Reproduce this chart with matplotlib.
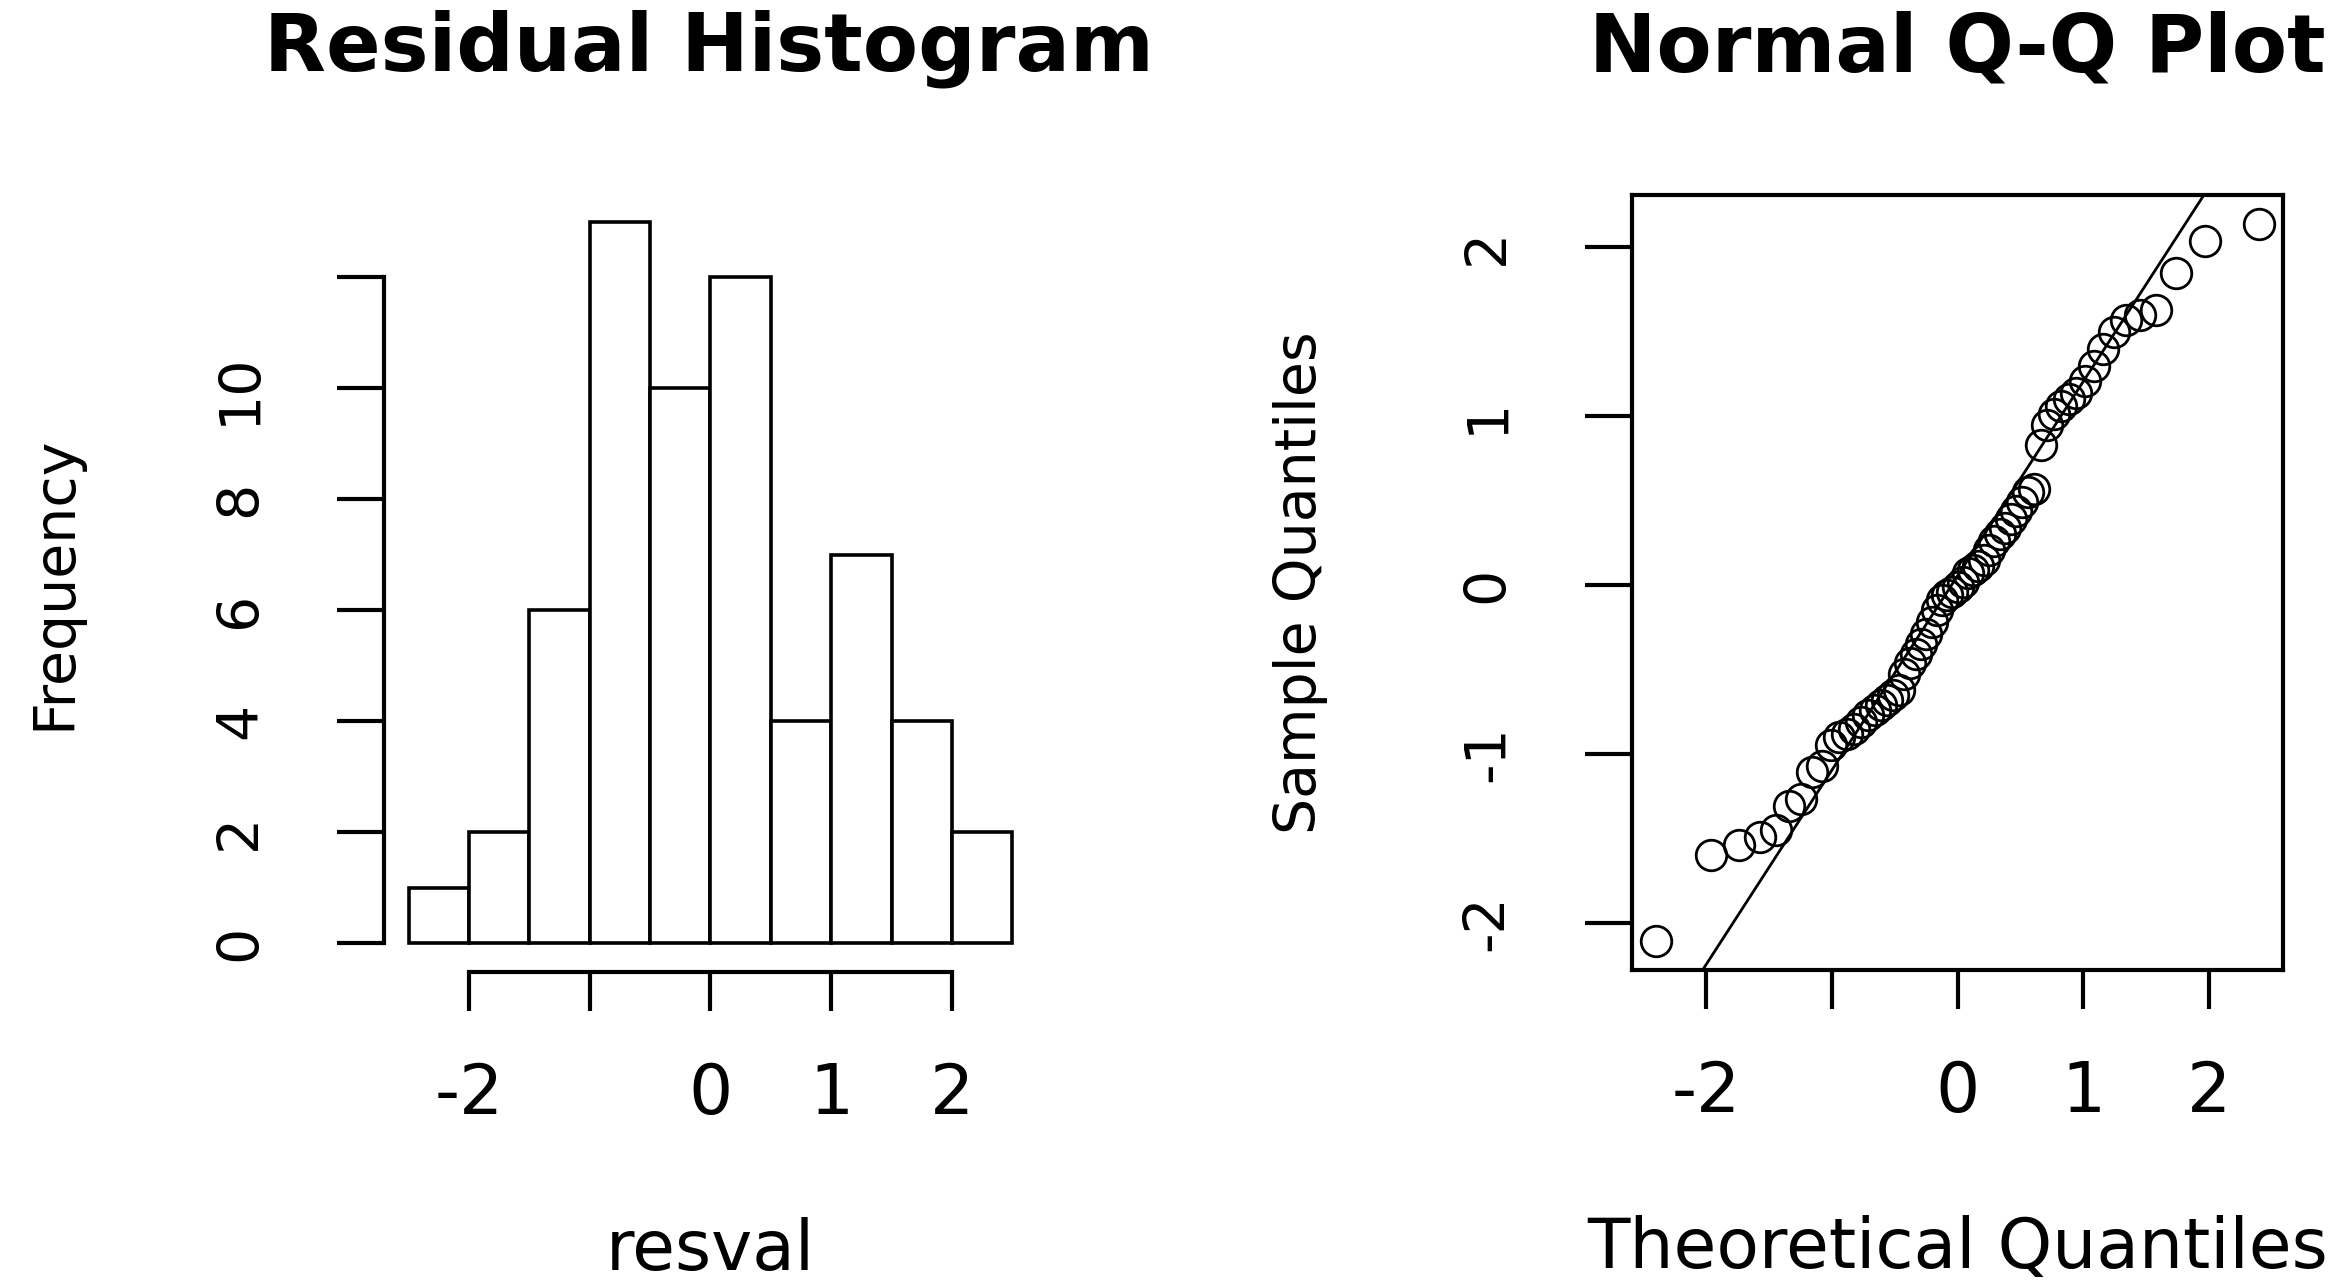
"""Residual histogram and normal Q-Q plot, side by side (R base-graphics look)."""
from statistics import NormalDist
import numpy as np
import matplotlib.pyplot as plt

# --- data ---
bin_edges = [-2.5, -2.0, -1.5, -1.0, -0.5, 0.0, 0.5, 1.0, 1.5, 2.0, 2.5]
bin_counts = [1, 2, 6, 13, 10, 12, 4, 7, 4, 2]
hist_xticks = [-2, -1, 0, 1, 2]
hist_xticklabels = ["-2", "", "0", "1", "2"]
hist_yticks = [0, 2, 4, 6, 8, 10, 12]
hist_yticklabels = ["0", "2", "4", "6", "8", "10", ""]

# sorted sample quantiles (Q-Q panel)
sample_q = [
    -2.11, -1.60, -1.54, -1.49, -1.45, -1.31, -1.27, -1.11, -1.07, -0.95,
    -0.90, -0.88, -0.85, -0.81, -0.77, -0.74, -0.71, -0.68, -0.65, -0.62,
    -0.53, -0.46, -0.41, -0.35, -0.29, -0.22, -0.15, -0.09, -0.06, -0.04,
    -0.01, 0.02, 0.07, 0.09, 0.11, 0.15, 0.21, 0.26, 0.30, 0.34,
    0.39, 0.44, 0.49, 0.55, 0.57, 0.83, 0.95, 1.01, 1.06, 1.10,
    1.14, 1.21, 1.30, 1.40, 1.50, 1.57, 1.60, 1.63, 1.85, 2.04,
    2.14,
]
qq_intercept = 0.055
qq_slope = 1.15
qq_xticks = [-2, -1, 0, 1, 2]
qq_xticklabels = ["-2", "", "0", "1", "2"]
qq_yticks = [-2, -1, 0, 1, 2]
qq_yticklabels = ["-2", "-1", "0", "1", "2"]

n = len(sample_q)
probs = (np.arange(1, n + 1) - 0.5) / n
theo_q = np.array([NormalDist().inv_cdf(p) for p in probs])

FS_H = 50   # horizontal text (the original is a bit stretched sideways)
FS_V = 41   # rotated text
LW = 3.0
plt.rcParams["font.family"] = ["DejaVu Sans"]

fig = plt.figure(figsize=(23.47, 12.83), dpi=100)
ax = fig.add_axes([0.1638, 0.2424, 0.2778, 0.6072])
ax2 = fig.add_axes([0.6954, 0.2440, 0.2774, 0.6040])

# --- left: histogram ---
edges = np.array(bin_edges)
ax.bar(edges[:-1], bin_counts, width=np.diff(edges), align="edge",
       facecolor="white", edgecolor="black", linewidth=2.6)
span = edges[-1] - edges[0]
ax.set_xlim(edges[0] - 0.04 * span, edges[-1] + 0.04 * span)
top = max(bin_counts)
ax.set_ylim(-0.04 * top, top * 1.04)
for s in ("top", "right"):
    ax.spines[s].set_visible(False)
ax.spines["left"].set_bounds(0, 12)
ax.spines["bottom"].set_bounds(-2, 2)
for s in ("left", "bottom"):
    ax.spines[s].set_linewidth(LW)
ax.set_xticks(hist_xticks)
ax.set_xticklabels(hist_xticklabels, fontsize=FS_H)
ax.set_yticks(hist_yticks)
ax.set_yticklabels(hist_yticklabels, fontsize=FS_V, rotation=90, va="center")
ax.tick_params(axis="y", direction="out", length=34, width=LW, pad=50)
ax.tick_params(axis="x", direction="out", length=28, width=LW, pad=36)
ax.set_xlabel("resval", fontsize=FS_H, va="center")
ax.xaxis.set_label_coords(0.5, -0.357)
ax.set_ylabel("Frequency", fontsize=FS_V, va="center")
ax.yaxis.set_label_coords(-0.505, 0.5)
ax.text(0.498, 1.1566, "Residual Histogram", transform=ax.transAxes,
        ha="center", va="baseline", fontsize=58, fontweight="bold")

# --- right: normal Q-Q ---
ax2.plot(theo_q, sample_q, linestyle="none", marker="o", markersize=22,
         markerfacecolor="none", markeredgecolor="black",
         markeredgewidth=2.0)
ax2.axline((0, qq_intercept), slope=qq_slope, color="black", linewidth=2.0)
ax2.margins(x=0.04, y=0.04)
for s in ax2.spines.values():
    s.set_linewidth(LW)
ax2.set_xticks(qq_xticks)
ax2.set_xticklabels(qq_xticklabels, fontsize=FS_H)
ax2.set_yticks(qq_yticks)
ax2.set_yticklabels(qq_yticklabels, fontsize=FS_V, rotation=90, va="center")
ax2.tick_params(axis="y", direction="out", length=34, width=LW, pad=50)
ax2.tick_params(axis="x", direction="out", length=28, width=LW, pad=36)
ax2.set_xlabel("Theoretical Quantiles", fontsize=FS_H, va="center")
ax2.xaxis.set_label_coords(0.5, -0.359)
ax2.set_ylabel("Sample Quantiles", fontsize=FS_V, va="center")
ax2.yaxis.set_label_coords(-0.51, 0.5)
ax2.text(0.5, 1.16, "Normal Q-Q Plot", transform=ax2.transAxes,
         ha="center", va="baseline", fontsize=58, fontweight="bold")

fig.savefig("out.png", dpi=100, facecolor="white")
